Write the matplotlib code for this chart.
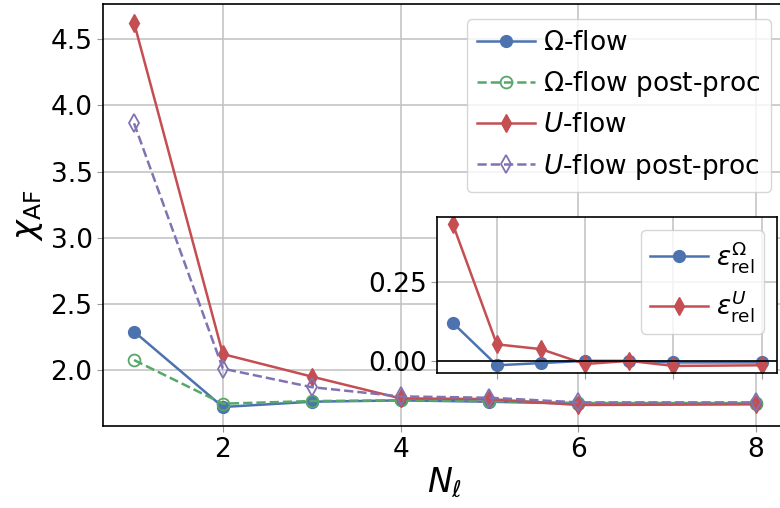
import numpy as np
import matplotlib
matplotlib.use('Agg')
import matplotlib.pyplot as plt

plt.rcParams['font.family'] = ['DejaVu Sans']
plt.rcParams['mathtext.fontset'] = 'dejavusans'

# number of levels
N_levels = [1, 2, 3, 4, 5, 6, 8]

# chi_AF for each scheme
chi_omega = [2.29, 1.72, 1.76, 1.77, 1.76, 1.745, 1.745]
chi_omega_pp = [2.075, 1.745, 1.765, 1.77, 1.765, 1.75, 1.75]
chi_u = [4.625, 2.12, 1.95, 1.785, 1.78, 1.735, 1.74]
chi_u_pp = [3.865, 2.01, 1.87, 1.80, 1.79, 1.755, 1.755]

# relative errors
eps_omega = [0.122, -0.012, -0.005, 0.002, 0.002, -0.003, -0.003]
eps_u = [0.434, 0.054, 0.039, -0.008, 0.002, -0.014, -0.012]

blue = '#4C72B0'
green = '#55A868'
red = '#C44E52'
purple = '#8172B2'

fs = 19

fig = plt.figure(figsize=(7.8, 5.08), dpi=100)
ax = fig.add_axes([0.132, 0.161, 0.877, 0.832])

ax.plot(N_levels, chi_omega, '-o', color=blue, lw=1.8, ms=8.5, label=r'$\Omega$-flow')
ax.plot(N_levels, chi_omega_pp, '--o', color=green, lw=1.8, ms=8.5, mfc='none',
        mew=1.3, label=r'$\Omega$-flow post-proc')
ax.plot(N_levels, chi_u, '-d', color=red, lw=1.8, ms=9, label=r'$U$-flow')
ax.plot(N_levels, chi_u_pp, '--d', color=purple, lw=1.8, ms=9, mfc='none',
        mew=1.3, label=r'$U$-flow post-proc')

ax.set_xticks([2, 4, 6, 8])
ax.set_yticks([2.0, 2.5, 3.0, 3.5, 4.0, 4.5])
ax.grid(True, color='#c0c0c0', lw=1.1)
ax.tick_params(labelsize=fs, color='#999999', length=4)
for s in ax.spines.values():
    s.set_color('black')
    s.set_linewidth(1.2)
ax.set_xlabel(r'$N_\ell$', fontsize=24, labelpad=2)
ax.set_ylabel(r'$\chi_{\rm AF}$', fontsize=24, labelpad=4)
ax.legend(loc='upper right', fontsize=fs, handlelength=2.2, handletextpad=0.3,
          borderpad=0.4, labelspacing=0.5, borderaxespad=0.6, framealpha=0.8)

# inset with relative errors
axin = fig.add_axes([0.5606, 0.2657, 0.4355, 0.3077])
axin.plot(N_levels, eps_omega, '-o', color=blue, lw=1.8, ms=8.5,
          label=r'$\varepsilon_{\rm rel}^{\Omega}$')
axin.plot(N_levels, eps_u, '-d', color=red, lw=1.8, ms=9,
          label=r'$\varepsilon_{\rm rel}^{U}$')
axin.axhline(0, color='black', lw=1.2)
axin.set_xticks([2, 4, 6, 8])
axin.set_xticklabels([])
axin.set_yticks([0.0, 0.25])
axin.grid(True, color='#c0c0c0', lw=1.1)
axin.tick_params(labelsize=fs, color='#999999', length=4)
for s in axin.spines.values():
    s.set_color('black')
    s.set_linewidth(1.2)
axin.legend(loc='upper right', fontsize=fs, handlelength=2.2, handletextpad=0.3,
            borderpad=0.35, labelspacing=0.5, framealpha=0.8)

fig.savefig('out.png', dpi=100)
